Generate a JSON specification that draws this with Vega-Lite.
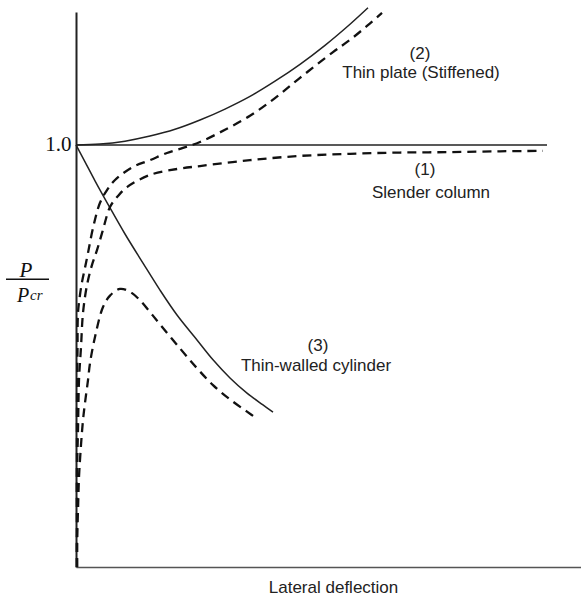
{
  "$schema": "https://vega.github.io/schema/vega-lite/v6.json",
  "width": 505,
  "height": 555,
  "autosize": {"type": "none"},
  "padding": {"left": 76, "top": 12, "right": 0, "bottom": 28},
  "background": "white",
  "config": {"view": {"stroke": null}, "axis": {"grid": false}},
  "datasets": {
    "curves": [
      {"c": "column", "k": "ideal", "x": 0, "y": 1.0},
      {"c": "column", "k": "ideal", "x": 4.71, "y": 1.0},
      {"c": "plate", "k": "ideal", "x": 0, "y": 1.0},
      {"c": "plate", "k": "ideal", "x": 0.24, "y": 1.002},
      {"c": "plate", "k": "ideal", "x": 0.49, "y": 1.009},
      {"c": "plate", "k": "ideal", "x": 0.74, "y": 1.021},
      {"c": "plate", "k": "ideal", "x": 0.99, "y": 1.037},
      {"c": "plate", "k": "ideal", "x": 1.24, "y": 1.059},
      {"c": "plate", "k": "ideal", "x": 1.49, "y": 1.085},
      {"c": "plate", "k": "ideal", "x": 1.74, "y": 1.115},
      {"c": "plate", "k": "ideal", "x": 1.99, "y": 1.151},
      {"c": "plate", "k": "ideal", "x": 2.24, "y": 1.191},
      {"c": "plate", "k": "ideal", "x": 2.49, "y": 1.236},
      {"c": "plate", "k": "ideal", "x": 2.74, "y": 1.286},
      {"c": "plate", "k": "ideal", "x": 2.92, "y": 1.325},
      {"c": "cylinder", "k": "ideal", "x": 0, "y": 1.0},
      {"c": "cylinder", "k": "ideal", "x": 0.09, "y": 0.96},
      {"c": "cylinder", "k": "ideal", "x": 0.19, "y": 0.915},
      {"c": "cylinder", "k": "ideal", "x": 0.34, "y": 0.851},
      {"c": "cylinder", "k": "ideal", "x": 0.49, "y": 0.789},
      {"c": "cylinder", "k": "ideal", "x": 0.67, "y": 0.72},
      {"c": "cylinder", "k": "ideal", "x": 0.84, "y": 0.656},
      {"c": "cylinder", "k": "ideal", "x": 1.01, "y": 0.597},
      {"c": "cylinder", "k": "ideal", "x": 1.21, "y": 0.538},
      {"c": "cylinder", "k": "ideal", "x": 1.37, "y": 0.491},
      {"c": "cylinder", "k": "ideal", "x": 1.54, "y": 0.448},
      {"c": "cylinder", "k": "ideal", "x": 1.71, "y": 0.412},
      {"c": "cylinder", "k": "ideal", "x": 1.87, "y": 0.384},
      {"c": "cylinder", "k": "ideal", "x": 1.97, "y": 0.367},
      {"c": "column", "k": "imperfect", "x": 0.01, "y": 0},
      {"c": "column", "k": "imperfect", "x": 0.01, "y": 0.111},
      {"c": "column", "k": "imperfect", "x": 0.01, "y": 0.23},
      {"c": "column", "k": "imperfect", "x": 0.02, "y": 0.325},
      {"c": "column", "k": "imperfect", "x": 0.03, "y": 0.443},
      {"c": "column", "k": "imperfect", "x": 0.05, "y": 0.521},
      {"c": "column", "k": "imperfect", "x": 0.07, "y": 0.602},
      {"c": "column", "k": "imperfect", "x": 0.11, "y": 0.668},
      {"c": "column", "k": "imperfect", "x": 0.16, "y": 0.716},
      {"c": "column", "k": "imperfect", "x": 0.21, "y": 0.751},
      {"c": "column", "k": "imperfect", "x": 0.27, "y": 0.799},
      {"c": "column", "k": "imperfect", "x": 0.34, "y": 0.853},
      {"c": "column", "k": "imperfect", "x": 0.42, "y": 0.879},
      {"c": "column", "k": "imperfect", "x": 0.51, "y": 0.9},
      {"c": "column", "k": "imperfect", "x": 0.74, "y": 0.929},
      {"c": "column", "k": "imperfect", "x": 1.01, "y": 0.943},
      {"c": "column", "k": "imperfect", "x": 1.24, "y": 0.95},
      {"c": "column", "k": "imperfect", "x": 1.74, "y": 0.964},
      {"c": "column", "k": "imperfect", "x": 2.24, "y": 0.974},
      {"c": "column", "k": "imperfect", "x": 2.74, "y": 0.979},
      {"c": "column", "k": "imperfect", "x": 3.24, "y": 0.982},
      {"c": "column", "k": "imperfect", "x": 3.74, "y": 0.983},
      {"c": "column", "k": "imperfect", "x": 4.24, "y": 0.985},
      {"c": "column", "k": "imperfect", "x": 4.67, "y": 0.986},
      {"c": "plate", "k": "imperfect", "x": 0.01, "y": 0},
      {"c": "plate", "k": "imperfect", "x": 0.01, "y": 0.206},
      {"c": "plate", "k": "imperfect", "x": 0.01, "y": 0.396},
      {"c": "plate", "k": "imperfect", "x": 0.015, "y": 0.514},
      {"c": "plate", "k": "imperfect", "x": 0.02, "y": 0.602},
      {"c": "plate", "k": "imperfect", "x": 0.04, "y": 0.645},
      {"c": "plate", "k": "imperfect", "x": 0.06, "y": 0.675},
      {"c": "plate", "k": "imperfect", "x": 0.09, "y": 0.709},
      {"c": "plate", "k": "imperfect", "x": 0.12, "y": 0.744},
      {"c": "plate", "k": "imperfect", "x": 0.17, "y": 0.803},
      {"c": "plate", "k": "imperfect", "x": 0.24, "y": 0.863},
      {"c": "plate", "k": "imperfect", "x": 0.31, "y": 0.893},
      {"c": "plate", "k": "imperfect", "x": 0.39, "y": 0.917},
      {"c": "plate", "k": "imperfect", "x": 0.57, "y": 0.948},
      {"c": "plate", "k": "imperfect", "x": 0.74, "y": 0.964},
      {"c": "plate", "k": "imperfect", "x": 0.91, "y": 0.981},
      {"c": "plate", "k": "imperfect", "x": 1.07, "y": 0.993},
      {"c": "plate", "k": "imperfect", "x": 1.24, "y": 1.007},
      {"c": "plate", "k": "imperfect", "x": 1.49, "y": 1.036},
      {"c": "plate", "k": "imperfect", "x": 1.74, "y": 1.069},
      {"c": "plate", "k": "imperfect", "x": 1.99, "y": 1.111},
      {"c": "plate", "k": "imperfect", "x": 2.24, "y": 1.159},
      {"c": "plate", "k": "imperfect", "x": 2.57, "y": 1.22},
      {"c": "plate", "k": "imperfect", "x": 2.74, "y": 1.249},
      {"c": "plate", "k": "imperfect", "x": 2.91, "y": 1.282},
      {"c": "plate", "k": "imperfect", "x": 3.06, "y": 1.313},
      {"c": "cylinder", "k": "imperfect", "x": 0.01, "y": 0},
      {"c": "cylinder", "k": "imperfect", "x": 0.01, "y": 0.064},
      {"c": "cylinder", "k": "imperfect", "x": 0.02, "y": 0.135},
      {"c": "cylinder", "k": "imperfect", "x": 0.03, "y": 0.213},
      {"c": "cylinder", "k": "imperfect", "x": 0.05, "y": 0.289},
      {"c": "cylinder", "k": "imperfect", "x": 0.07, "y": 0.348},
      {"c": "cylinder", "k": "imperfect", "x": 0.09, "y": 0.389},
      {"c": "cylinder", "k": "imperfect", "x": 0.12, "y": 0.443},
      {"c": "cylinder", "k": "imperfect", "x": 0.14, "y": 0.483},
      {"c": "cylinder", "k": "imperfect", "x": 0.19, "y": 0.545},
      {"c": "cylinder", "k": "imperfect", "x": 0.27, "y": 0.616},
      {"c": "cylinder", "k": "imperfect", "x": 0.34, "y": 0.643},
      {"c": "cylinder", "k": "imperfect", "x": 0.44, "y": 0.659},
      {"c": "cylinder", "k": "imperfect", "x": 0.54, "y": 0.652},
      {"c": "cylinder", "k": "imperfect", "x": 0.64, "y": 0.632},
      {"c": "cylinder", "k": "imperfect", "x": 0.74, "y": 0.604},
      {"c": "cylinder", "k": "imperfect", "x": 0.84, "y": 0.575},
      {"c": "cylinder", "k": "imperfect", "x": 1.04, "y": 0.518},
      {"c": "cylinder", "k": "imperfect", "x": 1.21, "y": 0.471},
      {"c": "cylinder", "k": "imperfect", "x": 1.37, "y": 0.431},
      {"c": "cylinder", "k": "imperfect", "x": 1.54, "y": 0.397},
      {"c": "cylinder", "k": "imperfect", "x": 1.71, "y": 0.368},
      {"c": "cylinder", "k": "imperfect", "x": 1.82, "y": 0.350}
    ],
    "labels": [
      {"t": "(2)", "x": 3.44, "y": 1.216},
      {"t": "Thin plate (Stiffened)", "x": 3.45, "y": 1.171},
      {"t": "(1)", "x": 3.49, "y": 0.941},
      {"t": "Slender column", "x": 3.55, "y": 0.886},
      {"t": "(3)", "x": 2.42, "y": 0.524},
      {"t": "Thin-walled cylinder", "x": 2.4, "y": 0.476}
    ],
    "frac": [
      {"part": "num", "t": "P", "x": -0.5, "y": 0.687},
      {"part": "den", "t": "P", "x": -0.59, "y": 0.628},
      {"part": "sub", "t": "cr", "x": -0.46, "y": 0.633}
    ],
    "bar": [
      {"x": -0.7, "x2": -0.27, "y": 0.682}
    ]
  },
  "layer": [
    {
      "data": {"name": "curves"},
      "transform": [{"filter": "datum.k === 'ideal'"}],
      "mark": {"type": "line", "stroke": "#222", "strokeWidth": 1.5, "clip": false, "interpolate": "catmull-rom"},
      "encoding": {
        "x": {"field": "x", "type": "quantitative", "scale": {"domain": [0, 5.05], "nice": false},
          "axis": {"title": "Lateral deflection", "labels": false, "ticks": false, "domainColor": "#555", "domainWidth": 1.5,
            "titleFont": "Liberation Sans", "titleFontSize": 17, "titleFontWeight": "normal", "titleColor": "#222", "titlePadding": 12, "titleX": 257}},
        "y": {"field": "y", "type": "quantitative", "scale": {"domain": [0, 1.315], "nice": false},
          "axis": {"title": null, "values": [1], "format": ".1f", "ticks": false, "domainColor": "#222", "domainWidth": 2,
            "labelFont": "Liberation Serif", "labelFontSize": 21, "labelColor": "#111", "labelPadding": 5}},
        "detail": {"field": "c"},
        "order": {"value": null}
      }
    },
    {
      "data": {"name": "curves"},
      "transform": [{"filter": "datum.k === 'imperfect'"}],
      "mark": {"type": "line", "stroke": "#111", "strokeWidth": 2.3, "strokeDash": [9, 6], "clip": false, "interpolate": "catmull-rom"},
      "encoding": {
        "x": {"field": "x", "type": "quantitative"},
        "y": {"field": "y", "type": "quantitative"},
        "detail": {"field": "c"},
        "order": {"value": null}
      }
    },
    {
      "data": {"name": "labels"},
      "mark": {"type": "text", "font": "Liberation Sans", "fontSize": 17, "color": "#222", "align": "center", "baseline": "middle"},
      "encoding": {
        "x": {"field": "x", "type": "quantitative"},
        "y": {"field": "y", "type": "quantitative"},
        "text": {"field": "t"}
      }
    },
    {
      "data": {"name": "frac"},
      "transform": [{"filter": "datum.part === 'num'"}],
      "mark": {"type": "text", "font": "Liberation Serif", "fontStyle": "italic", "fontSize": 21, "color": "#111", "align": "center", "baseline": "alphabetic"},
      "encoding": {
        "x": {"field": "x", "type": "quantitative"},
        "y": {"field": "y", "type": "quantitative"},
        "text": {"field": "t"}
      }
    },
    {
      "data": {"name": "frac"},
      "transform": [{"filter": "datum.part === 'den'"}],
      "mark": {"type": "text", "font": "Liberation Serif", "fontStyle": "italic", "fontSize": 20, "color": "#111", "align": "left", "baseline": "alphabetic"},
      "encoding": {
        "x": {"field": "x", "type": "quantitative"},
        "y": {"field": "y", "type": "quantitative"},
        "text": {"field": "t"}
      }
    },
    {
      "data": {"name": "frac"},
      "transform": [{"filter": "datum.part === 'sub'"}],
      "mark": {"type": "text", "font": "Liberation Serif", "fontStyle": "italic", "fontSize": 15, "color": "#111", "align": "left", "baseline": "alphabetic"},
      "encoding": {
        "x": {"field": "x", "type": "quantitative"},
        "y": {"field": "y", "type": "quantitative"},
        "text": {"field": "t"}
      }
    },
    {
      "data": {"name": "bar"},
      "mark": {"type": "rule", "stroke": "#111", "strokeWidth": 1.5},
      "encoding": {
        "x": {"field": "x", "type": "quantitative"},
        "x2": {"field": "x2"},
        "y": {"field": "y", "type": "quantitative"}
      }
    }
  ]
}
